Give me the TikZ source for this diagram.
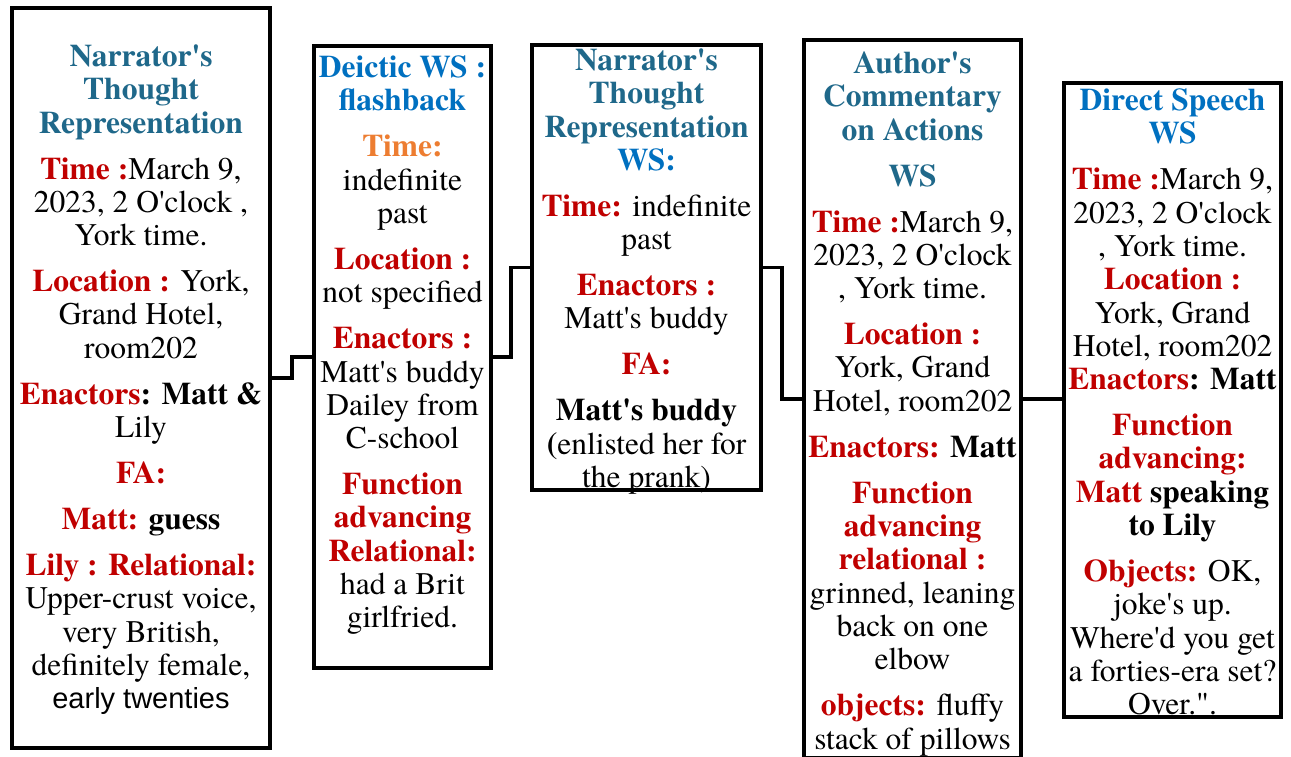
\documentclass[tikz,border=0pt]{standalone}
\usepackage{fontspec}
% Times-metric serif for all box text
\newfontfamily\bodyserif{texgyretermes}[Extension=.otf,
  UprightFont=*-regular, BoldFont=*-bold,
  ItalicFont=*-italic, BoldItalicFont=*-bolditalic]
\newfontfamily\altsans{Liberation Sans}
\definecolor{headteal}{RGB}{31,104,138}
\definecolor{headblue}{RGB}{0,112,192}
\definecolor{labred}{RGB}{192,0,0}
\definecolor{laborange}{RGB}{237,125,49}
\newcommand\rl[1]{\textcolor{labred}{\textbf{#1}}}
\newcommand\hdteal[1]{\textcolor{headteal}{\textbf{#1}}}
\newcommand\hdblue[1]{\textcolor{headblue}{\textbf{#1}}}
\begin{document}
\begin{tikzpicture}[x=1pt,y=-1pt,
  panel/.style={draw=black, line width=3.2pt, fill=white, inner sep=0pt,
    outer sep=0pt, anchor=north west},
  txt/.style={align=center, inner sep=0pt, anchor=north,
    font=\bodyserif\fontsize{31.5}{33.3}\selectfont},
  wire/.style={draw=black, line width=3.2pt, line join=miter}]
\useasboundingbox (0,0) rectangle (1291,756);
\fill[white] (0,0) rectangle (1291,756);

% the five world boxes
\node[panel, minimum width=258pt, minimum height=740pt] (b1) at (12,8) {};
\node[panel, minimum width=177pt, minimum height=622pt] (b2) at (314,46) {};
\node[panel, minimum width=229pt, minimum height=445pt] (b3) at (532,45) {};
\node[panel, minimum width=217pt, minimum height=718pt] (b4) at (804,40) {};
\node[panel, minimum width=217pt, minimum height=634pt] (b5) at (1064,83) {};

% stepped connectors between the boxes
\draw[wire] (b1.east) -- ++(22,0) |- (b2.west);
\draw[wire] (b2.east) -- ++(20,0) |- (b3.west);
\draw[wire] (b3.east) -- ++(21,0) |- (b4.west);
\draw[wire] (b4.east) -- (b4.east -| b5.west);

% box contents
\node[txt] (t1) at ([yshift=-36.5pt]b1.north) {%
\hdteal{Narrator's}\\ \hdteal{Thought}\\ \hdteal{Representation}\\[12.7pt]
\rl{Time :}March 9,\\ 2023, 2 O'clock ,\\ York time.\\[12.7pt]
\rl{Location :} York,\\ Grand Hotel,\\ room202\\[12.7pt]
\rl{Enactors}\textbf{: Matt \&}\\ Lily\\[12.7pt]
\rl{FA:}\\[12.7pt]
\rl{Matt:} \textbf{guess}\\[12.7pt]
\rl{Lily : Relational:}\\ Upper-crust voice,\\ very British,\\ definitely female,\\
{\altsans\fontsize{29}{33.3}\selectfont early twenties}};

\node[txt] (t2) at ([yshift=-9.5pt]b2.north) {%
\hdblue{Deictic WS :}\\ \hdblue{flashback}\\[12.7pt]
\textcolor{laborange}{\textbf{Time:}}\\ indefinite\\ past\\[12.7pt]
\rl{Location :}\\ not specified\\[12.7pt]
\rl{Enactors :}\\ Matt's buddy\\ Dailey from\\ C-school\\[12.7pt]
\rl{Function}\\ \rl{advancing}\\ \rl{Relational:}\\ had a Brit\\ girlfried.};

\node[txt] (t3) at ([yshift=-3.5pt]b3.north) {%
\hdteal{Narrator's}\\ \hdteal{Thought}\\ \hdteal{Representation}\\ \hdblue{WS:}\\[12.7pt]
\rl{Time:} indefinite\\ past\\[12.7pt]
\rl{Enactors :}\\ Matt's buddy\\[12.7pt]
\rl{FA:}\\[12.7pt]
\textbf{Matt's buddy}\\ \textbf{(}enlisted her for\\ the prank)};

\node[txt] (t4) at ([yshift=-11.5pt]b4.north) {%
\hdteal{Author's}\\ \hdteal{Commentary}\\ \hdteal{on Actions}\\[12.7pt]
\hdteal{WS}\\[12.7pt]
\rl{Time :}March 9,\\ 2023, 2 O'clock\\ , York time.\\[12.7pt]
\rl{Location :}\\ York, Grand\\ Hotel, room202\\[12.7pt]
\rl{Enactors:} \textbf{Matt}\\[12.7pt]
\rl{Function}\\ \rl{advancing}\\ \rl{relational :}\\ grinned, leaning\\ back on one\\ elbow\\[12.7pt]
\rl{objects:} fluffy\\ stack of pillows};

\node[txt] (t5) at ([yshift=-5.5pt]b5.north) {%
\hdblue{Direct Speech}\\ \hdblue{WS}\\[12.7pt]
\rl{Time :}March 9,\\ 2023, 2 O'clock\\ , York time.\\
\rl{Location :}\\ York, Grand\\ Hotel, room202\\
\rl{Enactors}\textbf{: Matt}\\[12.7pt]
\rl{Function}\\ \rl{advancing:}\\ \rl{Matt} \textbf{speaking}\\ \textbf{to Lily}\\[12.7pt]
\rl{Objects:} OK,\\ joke's up.\\ Where'd you get\\ a forties-era set?\\ Over.".};
\end{tikzpicture}
\end{document}
